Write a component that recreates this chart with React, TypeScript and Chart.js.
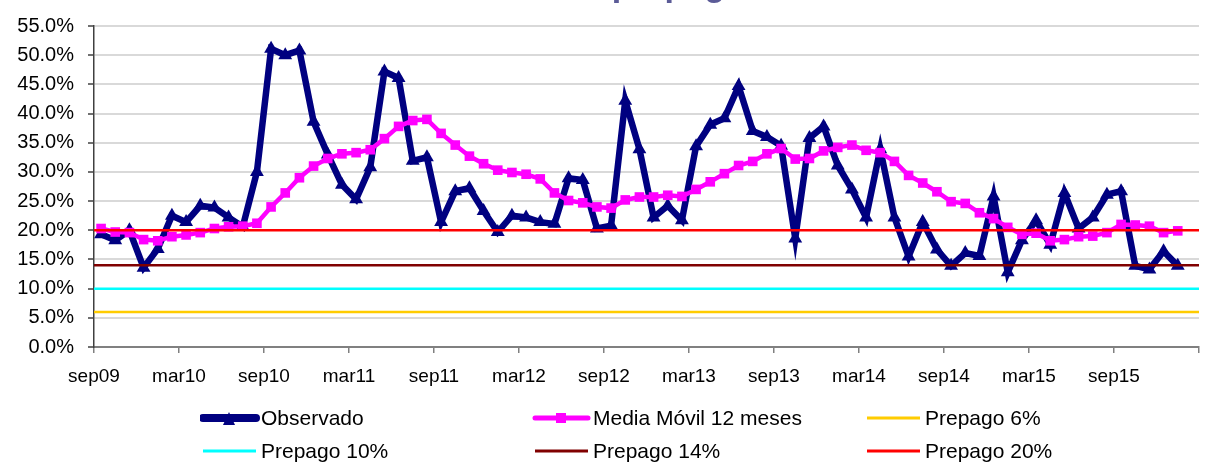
import React, { useEffect, useRef } from "react";
import { Chart, registerables } from "chart.js";

Chart.register(...registerables);

const monthNames = ["ene", "feb", "mar", "abr", "may", "jun", "jul", "ago", "sep", "oct", "nov", "dic"];
// monthly categories sep09 .. ene16
const months: string[] = Array.from({ length: 77 }, (_, i) => {
  const m = (8 + i) % 12;
  const y = 9 + Math.floor((8 + i) / 12);
  return monthNames[m] + String(y).padStart(2, "0");
});

const tickLabels = ["sep09", "mar10", "sep10", "mar11", "sep11", "mar12", "sep12", "mar13", "sep13", "mar14", "sep14", "mar15", "sep15", ""];

const observado = [
  19.3, 18.3, 20.0, 13.6, 16.8, 22.5, 21.4, 24.2, 23.9, 22.2, 20.6, 30.0,
  51.1, 50.0, 50.8, 38.6, 33.0, 27.8, 25.3, 30.8, 47.2, 46.1, 31.9, 32.5,
  21.4, 26.7, 27.2, 23.3, 19.7, 22.5, 22.2, 21.4, 21.1, 28.9, 28.6, 20.3,
  20.8, 42.2, 33.9, 22.2, 24.2, 21.7, 34.4, 38.1, 39.2, 44.7, 37.0, 36.0,
  34.5, 18.6, 35.8, 37.8, 31.1, 27.0, 22.2, 33.9, 22.2, 15.5, 21.4, 16.7,
  13.9, 16.1, 15.6, 25.8, 12.8, 18.3, 21.7, 17.5, 26.4, 20.3, 22.2, 26.1,
  26.7, 13.9, 13.3, 16.4, 13.9,
];

const mediaMovil = [
  20.3, 19.7, 19.6, 18.4, 18.2, 18.9, 19.2, 19.6, 20.3, 20.6, 20.7, 21.2,
  24.0, 26.4, 29.0, 31.0, 32.3, 33.1, 33.3, 33.8, 35.7, 37.8, 38.8, 39.0,
  36.6, 34.6, 32.7, 31.4, 30.3, 29.9, 29.6, 28.8, 26.4, 25.1, 24.7, 24.0,
  23.8, 25.2, 25.7, 25.7, 26.0, 25.8, 27.0, 28.3, 29.7, 31.1, 31.8, 33.1,
  34.0, 32.2, 32.3, 33.6, 34.2, 34.6, 33.7, 33.3, 31.8, 29.4, 28.1, 26.6,
  24.9, 24.6, 23.0, 22.0, 20.5, 19.3, 19.5, 18.2, 18.4, 18.9, 19.0, 19.6,
  21.0, 20.9, 20.7, 19.6, 19.9,
];

const prepagoLevels = [6, 10, 14, 20];
const prepagoNames = ["Prepago 6%", "Prepago 10%", "Prepago 14%", "Prepago 20%"];
const prepagoColors = ["#FFCC00", "#00FFFF", "#800000", "#FF0000"];

const yTicks = [0, 5, 10, 15, 20, 25, 30, 35, 40, 45, 50, 55];
const titleText = "Tasa de prepago";

const NAVY = "#000080";
const MAGENTA = "#FF00FF";
const FONT = "'Liberation Sans', Arial, sans-serif";

const xMax = (tickLabels.length - 1) * 6;

const titlePlugin = {
  id: "cutTitle",
  afterDraw(chart: any) {
    const ctx = chart.ctx;
    ctx.save();
    ctx.font = `bold 34px ${FONT}`;
    ctx.fillStyle = "#5b5b97";
    ctx.textAlign = "center";
    ctx.textBaseline = "alphabetic";
    ctx.fillText(titleText, 612, -4);
    ctx.restore();
  },
};

function Sample({ color, width, marker }: { color: string; width: number; marker?: "tri" | "rect" }) {
  return (
    <svg width={60} height={24} style={{ display: "block" }}>
      <line x1={3} y1={12} x2={56} y2={12} stroke={color} strokeWidth={width} strokeLinecap={marker ? "round" : "butt"} />
      {marker === "tri" && <polygon points="29,6 23,19 35,19" fill={color} />}
      {marker === "rect" && <rect x={24} y={7} width={10} height={10} fill={color} />}
    </svg>
  );
}

const legendItems = [
  { label: "Observado", color: NAVY, width: 8, marker: "tri" as const, col: 0, row: 0 },
  { label: "Media Móvil 12 meses", color: MAGENTA, width: 5, marker: "rect" as const, col: 1, row: 0 },
  { label: prepagoNames[0], color: prepagoColors[0], width: 3, col: 2, row: 0 },
  { label: prepagoNames[1], color: prepagoColors[1], width: 3, col: 0, row: 1 },
  { label: prepagoNames[2], color: prepagoColors[2], width: 3, col: 1, row: 1 },
  { label: prepagoNames[3], color: prepagoColors[3], width: 3, col: 2, row: 1 },
];
const colX = [200, 532, 864];
const rowY = [418, 451];

export default function App() {
  const ref = useRef<HTMLCanvasElement>(null);

  useEffect(() => {
    document.body.style.margin = "0";
    const datasets: any[] = [
      {
        label: "Observado",
        data: observado.map((v, i) => ({ x: i + 0.5, y: v })),
        borderColor: NAVY,
        backgroundColor: NAVY,
        borderWidth: 6.5,
        pointStyle: "triangle",
        pointRadius: 8,
        pointBorderWidth: 0,
        tension: 0,
        order: 3,
      },
      {
        label: "Media Móvil 12 meses",
        data: mediaMovil.map((v, i) => ({ x: i + 0.5, y: v })),
        borderColor: MAGENTA,
        backgroundColor: MAGENTA,
        borderWidth: 4.5,
        pointStyle: "rect",
        pointRadius: 6.8,
        pointBorderWidth: 0,
        tension: 0,
        order: 2,
      },
      ...prepagoLevels.map((lvl, k) => ({
        label: prepagoNames[k],
        data: [
          { x: 0, y: lvl },
          { x: xMax, y: lvl },
        ],
        borderColor: prepagoColors[k],
        backgroundColor: prepagoColors[k],
        borderWidth: 2.5,
        pointRadius: 0,
        order: 1,
      })),
    ];

    const chart = new Chart(ref.current as HTMLCanvasElement, {
      type: "line",
      data: { datasets },
      options: {
        responsive: false,
        animation: false,
        devicePixelRatio: 1,
        layout: { padding: { left: 0, right: 15, top: 17, bottom: 0 } },
        plugins: {
          legend: { display: false },
          title: { display: false },
          tooltip: { enabled: false },
        },
        scales: {
          x: {
            type: "linear",
            min: 0,
            max: xMax,
            afterFit: (s: any) => {
              s.height = 120;
            },
            afterBuildTicks: (s: any) => {
              s.ticks = tickLabels.map((_, i) => ({ value: i * 6 }));
            },
            ticks: {
              autoSkip: false,
              maxRotation: 0,
              padding: 12,
              color: "#000",
              font: { family: FONT, size: 19 },
              callback: (v: any) => tickLabels[Math.round(Number(v) / 6)] ?? "",
            },
            grid: {
              drawOnChartArea: false,
              drawTicks: true,
              tickLength: 6,
              tickColor: "#808080",
              lineWidth: 1.5,
            },
            border: { display: true, color: "#808080", width: 2 },
          },
          y: {
            min: 0,
            max: 55,
            afterFit: (s: any) => {
              s.width = 94;
            },
            afterBuildTicks: (s: any) => {
              s.ticks = yTicks.map((v) => ({ value: v }));
            },
            ticks: {
              padding: 14,
              color: "#000",
              font: { family: FONT, size: 20 },
              callback: (v: any) => Number(v).toFixed(1) + "%",
            },
            grid: {
              color: "#d9d9d9",
              lineWidth: 2,
              tickLength: 6,
              tickColor: "#404040",
              tickWidth: 1.5,
            },
            border: { display: true, color: "#404040", width: 1.5 },
          },
        },
      },
      plugins: [titlePlugin],
    } as any);
    return () => chart.destroy();
  }, []);

  return (
    <div style={{ position: "relative", width: 1214, height: 467, overflow: "hidden", background: "#fff", fontFamily: FONT }}>
      <canvas ref={ref} width={1214} height={467} style={{ position: "absolute", left: 0, top: 0, width: 1214, height: 467 }} />
      {legendItems.map((it) => (
        <div
          key={it.label}
          style={{
            position: "absolute",
            left: colX[it.col],
            top: rowY[it.row] - 12,
            height: 24,
            display: "flex",
            alignItems: "center",
            whiteSpace: "nowrap",
          }}
        >
          <Sample color={it.color} width={it.width} marker={(it as any).marker} />
          <span style={{ fontSize: 21, color: "#000", marginLeft: 1, lineHeight: "24px" }}>{it.label}</span>
        </div>
      ))}
      <span style={{ display: "none" }}>{months.join(",")}</span>
    </div>
  );
}
